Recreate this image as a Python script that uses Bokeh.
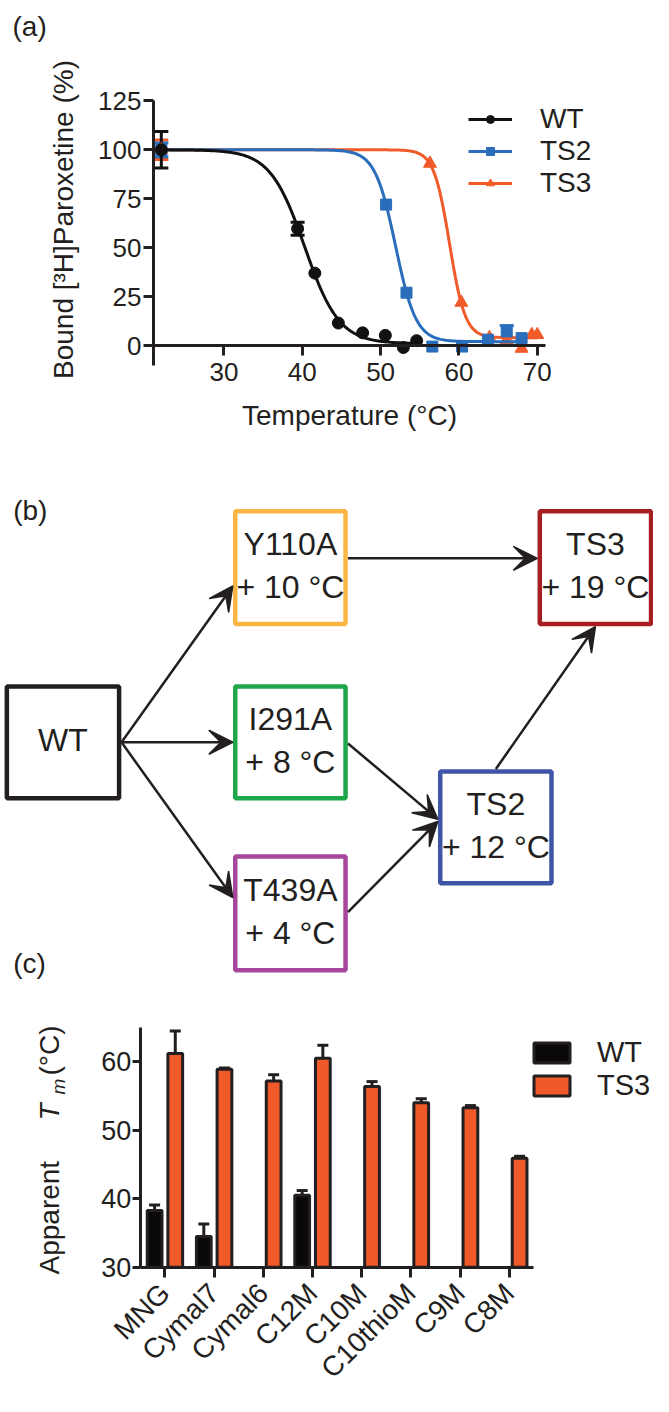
import math
import numpy as np
from bokeh.plotting import figure
from bokeh.models import (ColumnDataSource, Range1d, FixedTicker, Legend, LegendItem,
                          Whisker, TeeHead, Arrow, VeeHead, Label, LinearAxis)
from bokeh.layouts import column
from bokeh.transform import dodge
from bokeh.core.properties import value
from bokeh.embed import file_html
from bokeh.resources import INLINE

FONT = "Liberation Sans"
INK = "#231F20"

# ---------------- (a) thermostability data ----------------
series_names = ["WT", "TS2", "TS3"]
wt_temp = [22, 39.4, 41.6, 44.6, 47.7, 50.6, 52.9, 54.6]
wt_bound = [100, 59.7, 37, 11.5, 6.5, 5.2, -1, 2.5]
wt_err = [9.3, 3.3, 0, 0, 0, 0, 0, 0]
ts2_temp = [22, 50.7, 53.3, 56.6, 60.4, 63.7, 66.1, 68.0]
ts2_bound = [100, 72, 27, -0.5, -0.5, 3, 7.2, 3.8]
ts2_err = [3.5, 0, 0, 0, 0, 0, 3, 0]
ts3_temp = [22, 56.3, 60.3, 63.9, 66.1, 68.0, 69.3, 70.0]
ts3_bound = [100, 93, 22, 4, 3, -1.5, 5.5, 5.5]
ts3_err = [5, 0, 0, 0, 0, 0, 0, 0]
# Boltzmann fit parameters: Tm, slope, top, bottom
wt_fit = [40.3, 2.2, 100, 1]
ts2_fit = [51.9, 1.31, 100, 2]
ts3_fit = [58.8, 1.0, 100, 4]
a_xticks = [30, 40, 50, 60, 70]
a_yticks = [0, 25, 50, 75, 100, 125]
a_xbounds = (21, 71)
a_ybounds = (-10, 125)

# ---------------- (b) mutation scheme ----------------
node_names = ["WT", "Y110A", "I291A", "T439A", "TS2", "TS3"]
node_gain = ["", "+ 10 °C", "+ 8 °C", "+ 4 °C", "+ 12 °C", "+ 19 °C"]
edges = [("WT", "Y110A"), ("WT", "I291A"), ("WT", "T439A"), ("Y110A", "TS3"),
         ("I291A", "TS2"), ("T439A", "TS2"), ("TS2", "TS3")]

# ---------------- (c) detergent Tm data ----------------
detergents = ["MNG", "Cymal7", "Cymal6", "C12M", "C10M", "C10thioM", "C9M", "C8M"]
wt_tm = [38.3, 34.5, float("nan"), 40.5, float("nan"), float("nan"), float("nan"), float("nan")]
wt_tm_err = [0.8, 1.8, 0, 0.7, 0, 0, 0, 0]
ts3_tm = [61.2, 58.9, 57.2, 60.5, 56.4, 54.0, 53.3, 45.9]
ts3_tm_err = [3.3, 0.2, 0.9, 1.9, 0.7, 0.6, 0.3, 0.3]
c_yticks = [30, 40, 50, 60]
c_ybounds = (30, 65)

# ---------------- styles ----------------
COL = {"WT": "#111111", "TS2": "#2A6EBB", "TS3": "#F15A29"}
MARK = {"WT": "circle", "TS2": "square", "TS3": "triangle"}
MSIZE = {"WT": 12, "TS2": 11, "TS3": 13}
BAR_ORANGE = "#F05A28"
BOX_COL = {"WT": INK, "Y110A": "#FBB545", "I291A": "#1EA64B", "T439A": "#A6479C",
           "TS2": "#3F55A5", "TS3": "#A71E22"}
# box outer extents (left, top, right, bottom) in the scheme's own pixel space
BOX = {"WT": (4, 691, 124, 809), "Y110A": (238, 514, 356, 633), "I291A": (238, 691, 356, 809),
       "T439A": (238, 863, 356, 983), "TS2": (448, 777, 567, 895), "TS3": (550, 514, 669, 633)}
# edge anchors as fractions of the box (fx from left, fy from top)
ANCH = [((1, 0.5), (0, 0.655)), ((1, 0.5), (0, 0.5)), ((1, 0.5), (0, 0.367)),
        ((1, 0.42), (0, 0.42)), ((1, 0.51), (0, 0.43)), ((1, 0.49), (0, 0.45)),
        ((0.5, 0), (0.5, 1))]
W = 653


def make_axis(loc, bounds, ticks, tick_size):
    ax = LinearAxis(fixed_location=loc, bounds=bounds, ticker=FixedTicker(ticks=ticks))
    ax.axis_line_width = 3
    ax.axis_line_color = INK
    ax.major_tick_line_width = 3
    ax.major_tick_line_color = INK
    ax.major_tick_out = 10
    ax.major_tick_in = 0
    ax.minor_tick_line_color = None
    ax.major_label_text_font = FONT
    ax.major_label_text_font_size = tick_size
    ax.major_label_text_color = INK
    ax.axis_label_text_font = FONT
    ax.axis_label_text_font_size = "28px"
    ax.axis_label_text_font_style = "normal"
    ax.axis_label_text_color = INK
    return ax


def base_fig(h, xr, yr):
    p = figure(width=W, height=h, x_range=xr, y_range=yr, min_border=0,
               x_axis_location=None, y_axis_location=None,
               output_backend="svg", toolbar_location=None)
    p.grid.visible = False
    p.outline_line_color = None
    return p


def screen_label(p, x, y, text, size="28px", angle=0, align="left", baseline="middle",
                 style="normal"):
    p.add_layout(Label(x=x, y=y, x_units="screen", y_units="screen", text=text,
                       angle=angle, angle_units="deg", text_align=align,
                       text_baseline=baseline, text_font=FONT, text_font_size=size,
                       text_font_style=style, text_color=INK))


# =============== panel (a) ===============
pa = base_fig(455, Range1d(1.465, 84.84), Range1d(-56.16, 176.27))
xa = make_axis(0, a_xbounds, a_xticks, "26px")
xa.axis_label = "Temperature (°C)"
xa.major_label_standoff = 7
xa.axis_label_standoff = 16
ya = make_axis(a_xbounds[0], a_ybounds, a_yticks, "26px")
ya.major_label_standoff = 2
pa.add_layout(xa, "below")
pa.add_layout(ya, "left")
screen_label(pa, 63, 236, "Bound [³H]Paroxetine (%)", angle=90, align="center")

series = {
    "WT": (wt_temp, wt_bound, wt_err, wt_fit),
    "TS2": (ts2_temp, ts2_bound, ts2_err, ts2_fit),
    "TS3": (ts3_temp, ts3_bound, ts3_err, ts3_fit),
}
items = {}
for name in ["TS3", "TS2", "WT"]:
    t, b, e, fit = series[name]
    tm, slope, top, bottom = fit
    tt = np.linspace(min(t), max(t), 300)
    yy = bottom + (top - bottom) / (1 + np.exp((tt - tm) / slope))
    lr = pa.line(tt, yy, line_color=COL[name], line_width=3)
    idx = [i for i in range(len(t)) if e[i] > 0]
    wsrc = ColumnDataSource(dict(x=[t[i] for i in idx],
                                 lo=[b[i] - e[i] for i in idx],
                                 hi=[b[i] + e[i] for i in idx]))
    pa.add_layout(Whisker(base="x", upper="hi", lower="lo", source=wsrc,
                          line_color=COL[name], line_width=3,
                          upper_head=TeeHead(size=14, line_width=3, line_color=COL[name]),
                          lower_head=TeeHead(size=14, line_width=3, line_color=COL[name])))
    sr = pa.scatter(t, b, marker=MARK[name], size=MSIZE[name], fill_color=COL[name],
                    line_color=COL[name])
    items[name] = LegendItem(label=name, renderers=[lr, sr])

leg_a = Legend(items=[items[n] for n in series_names], location=(468, 256),
               glyph_width=44, glyph_height=20, label_standoff=28, spacing=0, padding=0,
               margin=0, border_line_color=None, background_fill_alpha=0,
               label_text_font=FONT, label_text_font_size="28px", label_text_color=INK)
pa.add_layout(leg_a)
screen_label(pa, 12, 445, "(a)", baseline="top")

# =============== panel (b) ===============
pb = base_fig(534, Range1d(0, 669), Range1d(1000, 460))
cx = [(BOX[n][0] + BOX[n][2]) / 2 for n in node_names]
cy = [(BOX[n][1] + BOX[n][3]) / 2 for n in node_names]
bw = [BOX[n][2] - BOX[n][0] - 5 for n in node_names]
bh = [BOX[n][3] - BOX[n][1] - 5 for n in node_names]
labels = [n if g == "" else n + "\n" + g for n, g in zip(node_names, node_gain)]
nsrc = ColumnDataSource(dict(cx=cx, cy=cy, ty=[v - 2 for v in cy], w=bw, h=bh, label=labels,
                             color=[BOX_COL[n] for n in node_names]))


def anchor(n, f):
    l, t, r, b = BOX[n]
    return l + f[0] * (r - l), t + f[1] * (b - t)


x0, y0, x1, y1 = [], [], [], []
for (s, d), (fs, fd) in zip(edges, ANCH):
    ax_, ay_ = anchor(s, fs)
    bx_, by_ = anchor(d, fd)
    x0.append(ax_); y0.append(ay_); x1.append(bx_); y1.append(by_)
esrc = ColumnDataSource(dict(x0=x0, y0=y0, x1=x1, y1=y1))
pb.add_layout(Arrow(x_start="x0", y_start="y0", x_end="x1", y_end="y1", source=esrc,
                    line_color=INK, line_width=2.5,
                    end=VeeHead(size=24, fill_color=INK, line_color=INK, line_width=1.5)))
pb.rect(x="cx", y="cy", width="w", height="h", source=nsrc, fill_color="white",
        line_color="color", line_width=4.5)
pb.text(x="cx", y="ty", text="label", source=nsrc, text_font=value(FONT),
        text_font_size="32px", text_align="center", text_baseline="middle",
        text_color=INK, text_line_height=1.2)
pb.add_layout(Label(x=13, y=500, text="(b)", text_baseline="top", text_font=FONT,
                    text_font_size="28px", text_color=INK))
pb.add_layout(Label(x=13, y=958, text="(c)", text_baseline="top", text_font=FONT,
                    text_font_size="28px", text_color=INK))

# =============== panel (c) ===============
pc = base_fig(407, Range1d(-3.343, 9.932), Range1d(11.14, 70.54))
n_det = len(detergents)
xc = make_axis(c_ybounds[0], (-0.5, n_det - 0.5), list(range(n_det)), "28px")
xc.major_label_overrides = {i: d for i, d in enumerate(detergents)}
xc.major_label_orientation = math.pi / 4
xc.major_label_standoff = 11
yc = make_axis(-0.5, c_ybounds, c_yticks, "27px")
yc.major_tick_out = 8
yc.major_label_standoff = 1
pc.add_layout(xc, "below")
pc.add_layout(yc, "left")

y_base = c_yticks[0]
wi = [i for i in range(n_det) if not math.isnan(wt_tm[i])]
wt_src = ColumnDataSource(dict(pos=wi, val=[wt_tm[i] for i in wi],
                               hi=[wt_tm[i] + wt_tm_err[i] for i in wi]))
ts3_src = ColumnDataSource(dict(pos=list(range(n_det)), val=ts3_tm,
                                hi=[v + e for v, e in zip(ts3_tm, ts3_tm_err)]))
for src, off in ((wt_src, -0.21), (ts3_src, 0.21)):
    pc.add_layout(Whisker(base=dodge("pos", off), upper="hi", lower="val",
                          source=src, line_color=INK, line_width=3,
                          upper_head=TeeHead(size=11, line_width=3, line_color=INK),
                          lower_head=None))
r_wt = pc.vbar(x=dodge("pos", -0.21), top="val", bottom=y_base, width=0.3,
               source=wt_src, fill_color="#0B0809", line_color=INK, line_width=3)
r_ts3 = pc.vbar(x=dodge("pos", 0.21), top="val", bottom=y_base, width=0.3,
                source=ts3_src, fill_color=BAR_ORANGE, line_color=INK, line_width=3)
leg_c = Legend(items=[LegendItem(label="WT", renderers=[r_wt]),
                      LegendItem(label="TS3", renderers=[r_ts3])],
               location=(529, 294), glyph_width=45, glyph_height=25, label_standoff=23,
               spacing=0, padding=0, margin=0, border_line_color=None,
               background_fill_alpha=0, label_text_font=FONT, label_text_font_size="29px",
               label_text_color=INK)
pc.add_layout(leg_c)
screen_label(pc, 49, 122, "Apparent", angle=90)
screen_label(pc, 49, 276, "T", angle=90, style="italic")
screen_label(pc, 58, 302, "m", size="19px", angle=90, style="italic")
screen_label(pc, 49, 321, "(°C)", angle=90)

layout = column(pa, pb, pc)
open("out.html", "w").write(file_html(layout, INLINE))
